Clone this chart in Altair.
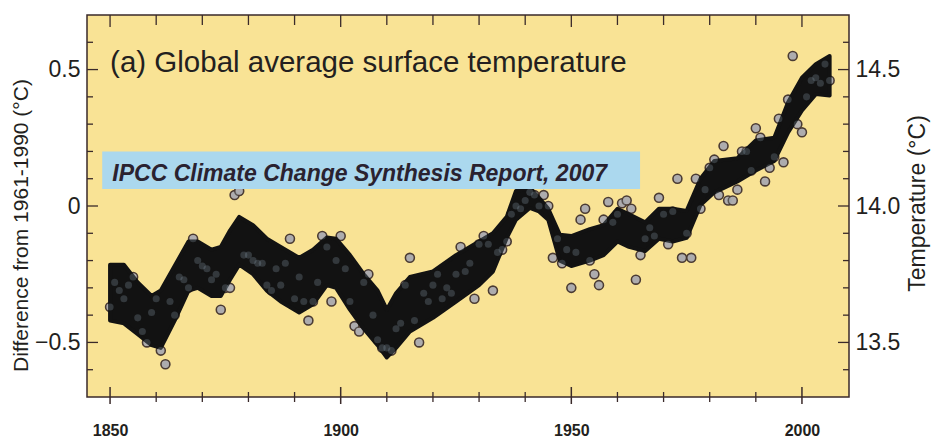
import altair as alt
import pandas as pd

# ---- data ----
years = list(range(1850, 2007))
anomaly = [
    -0.37, -0.28, -0.31, -0.34, -0.29, -0.26, -0.41, -0.46, -0.50, -0.39,
    -0.34, -0.53, -0.58, -0.35, -0.40, -0.26, -0.27, -0.30, -0.12, -0.20,
    -0.22, -0.23, -0.27, -0.25, -0.38, -0.30, -0.30, 0.04, 0.055, -0.18,
    -0.18, -0.20, -0.21, -0.21, -0.29, -0.31, -0.23, -0.29, -0.21, -0.12,
    -0.34, -0.26, -0.35, -0.42, -0.35, -0.28, -0.11, -0.15, -0.35, -0.20,
    -0.11, -0.23, -0.35, -0.44, -0.46, -0.28, -0.25, -0.40, -0.49, -0.52,
    -0.52, -0.53, -0.45, -0.43, -0.29, -0.19, -0.42, -0.50, -0.32, -0.35,
    -0.29, -0.25, -0.34, -0.30, -0.32, -0.25, -0.15, -0.24, -0.21, -0.34,
    -0.14, -0.11, -0.14, -0.31, -0.17, -0.16, -0.13, -0.03, 0.00, -0.01,
    0.02, 0.05, 0.04, 0.00, 0.04, 0.00, -0.19, -0.12, -0.21, -0.16,
    -0.30, -0.17, -0.05, -0.01, -0.20, -0.25, -0.29, -0.05, 0.015, -0.06,
    -0.03, 0.01, 0.02, -0.01, -0.27, -0.18, -0.12, -0.08, -0.11, 0.03,
    -0.03, -0.14, -0.02, 0.10, -0.19, -0.10, -0.19, 0.10, -0.01, 0.06,
    0.14, 0.17, 0.04, 0.22, 0.02, 0.02, 0.06, 0.20, 0.20, 0.13,
    0.285, 0.25, 0.09, 0.14, 0.18, 0.32, 0.16, 0.39, 0.55, 0.30,
    0.27, 0.40, 0.46, 0.47, 0.45, 0.52, 0.46,
]

band_year = [1850, 1853, 1856, 1859, 1861, 1864, 1867, 1869, 1872, 1874, 1876,
             1878, 1881, 1884, 1887, 1891, 1894, 1897, 1899, 1902, 1905, 1908,
             1910, 1912, 1915, 1920, 1925, 1930, 1933, 1936, 1938, 1941, 1943,
             1945, 1947.5, 1950, 1954, 1957, 1960, 1962.5, 1966, 1969, 1972,
             1975, 1978, 1981, 1986, 1990, 1994, 1997, 2000, 2003, 2006]
band_lo = [-0.42, -0.43, -0.47, -0.51, -0.52, -0.42, -0.31, -0.30, -0.33, -0.33, -0.27,
           -0.215, -0.25, -0.31, -0.35, -0.39, -0.36, -0.29, -0.30, -0.38, -0.45, -0.51,
           -0.555, -0.52, -0.46, -0.41, -0.35, -0.29, -0.24, -0.117, -0.05, -0.007, -0.02,
           -0.05, -0.20, -0.22, -0.20, -0.18, -0.13, -0.15, -0.165, -0.12, -0.13,
           -0.117, 0.004, 0.05, 0.09, 0.13, 0.165, 0.27, 0.35, 0.41, 0.405]
band_hi = [-0.215, -0.215, -0.28, -0.33, -0.31, -0.22, -0.13, -0.13, -0.16, -0.15, -0.09,
           -0.04, -0.07, -0.12, -0.15, -0.19, -0.16, -0.115, -0.12, -0.18, -0.25, -0.31,
           -0.38, -0.32, -0.26, -0.24, -0.18, -0.13, -0.10, -0.04, 0.055, 0.065, 0.03,
           -0.01, -0.105, -0.11, -0.085, -0.07, -0.01, -0.03, -0.06, -0.01, -0.01,
           -0.018, 0.10, 0.165, 0.175, 0.24, 0.25, 0.38, 0.47, 0.52, 0.55]

x_label_years = [1850, 1900, 1950, 2000]
x_minor_years = [1860, 1870, 1880, 1890, 1910, 1920, 1930, 1940, 1960, 1970, 1980, 1990]
y_major = [-0.5, 0.0, 0.5]
y_minor = [-0.6, -0.4, -0.3, -0.2, -0.1, 0.1, 0.2, 0.3, 0.4, 0.6]
t_major = [13.5, 14.0, 14.5]
t_minor = [13.4, 13.6, 13.7, 13.8, 13.9, 14.1, 14.2, 14.3, 14.4, 14.6]

title_text = "(a) Global average surface temperature"
banner_text = "IPCC Climate Change Synthesis Report, 2007"
banner_box = {"x": 1848.3, "x2": 1964.9, "y": 0.062, "y2": 0.2}
title_pos = {"x": 1850.0, "y": 0.49}
banner_pos = {"x": 1850.5, "y": 0.09}

# ---- styling ----
W, H = 762, 382
FONT = "Liberation Sans"
BG = "#f9e395"
INK = "#231f20"

xscale = alt.Scale(domain=[1845, 2010.2], nice=False, zero=False)
yscale = alt.Scale(domain=[-0.7, 0.7], nice=False, zero=False)
tscale = alt.Scale(domain=[13.3, 14.7], nice=False, zero=False)

df = pd.DataFrame({"year": years, "anom": anomaly})
band = pd.DataFrame({"year": band_year, "lo": band_lo, "hi": band_hi})

y_axis = alt.Axis(values=y_major, ticks=False, domain=False, grid=False,
                  labelExpr="datum.value == 0 ? '0' : format(datum.value, '.1f')",
                  labelFont=FONT, labelFontSize=23, labelColor=INK, labelPadding=7,
                  title="Difference from 1961-1990 (°C)", titleFont=FONT,
                  titleFontSize=21, titleFontWeight="normal", titleColor=INK,
                  titleAngle=270, titleX=-66, titleY=210, titleAlign="center",
                  titleBaseline="middle")
x_axis = alt.Axis(values=x_label_years, ticks=False, domain=False, grid=False,
                  format="d", labelFont=FONT, labelFontSize=16, labelFontWeight="bold",
                  labelColor=INK, labelPadding=25, title=None)

dots = alt.Chart(df).mark_point(
    filled=True, shape="circle", size=80, fill="#bbb3b0", stroke="#4a3b33",
    strokeWidth=1.6, opacity=1
).encode(
    x=alt.X("year:Q", scale=xscale, axis=x_axis),
    y=alt.Y("anom:Q", scale=yscale, axis=y_axis),
)

area = alt.Chart(band).mark_area(
    color="#121212", interpolate="linear", stroke="#121212", strokeWidth=4,
    strokeJoin="round"
).encode(
    x=alt.X("year:Q", scale=xscale),
    y=alt.Y("lo:Q", scale=yscale),
    y2="hi:Q",
)

dots_faint = alt.Chart(df).mark_circle(size=50, color="#8a9aa8", opacity=0.28).encode(
    x=alt.X("year:Q", scale=xscale),
    y=alt.Y("anom:Q", scale=yscale),
)

box = alt.Chart(pd.DataFrame([banner_box])).mark_rect(color="#abd8ee").encode(
    x=alt.X("x:Q", scale=xscale), x2="x2:Q",
    y=alt.Y("y:Q", scale=yscale), y2="y2:Q",
)

banner = alt.Chart(pd.DataFrame([{**banner_pos, "t": banner_text}])).mark_text(
    align="left", baseline="alphabetic", font=FONT, fontSize=23,
    fontStyle="italic", fontWeight="bold", color="#2a2230"
).encode(x=alt.X("x:Q", scale=xscale), y=alt.Y("y:Q", scale=yscale), text="t:N")

title = alt.Chart(pd.DataFrame([{**title_pos, "t": title_text}])).mark_text(
    align="left", baseline="alphabetic", font=FONT, fontSize=29.5, color=INK
).encode(x=alt.X("x:Q", scale=xscale), y=alt.Y("y:Q", scale=yscale), text="t:N")

TC = "#3a2a2a"
lt_major = alt.Chart(pd.DataFrame({"v": y_major})).mark_rule(color=TC, strokeWidth=1.3).encode(
    y=alt.Y("v:Q", scale=yscale), x=alt.value(0), x2=alt.value(11))
lt_minor = alt.Chart(pd.DataFrame({"v": y_minor})).mark_rule(color=TC, strokeWidth=1.3).encode(
    y=alt.Y("v:Q", scale=yscale), x=alt.value(0), x2=alt.value(6))

top_major = alt.Chart(pd.DataFrame({"yr": x_label_years})).mark_rule(color=TC, strokeWidth=1.3).encode(
    x=alt.X("yr:Q", scale=xscale), y=alt.value(0), y2=alt.value(12))
top_minor = alt.Chart(pd.DataFrame({"yr": x_minor_years})).mark_rule(color=TC, strokeWidth=1.3).encode(
    x=alt.X("yr:Q", scale=xscale), y=alt.value(0), y2=alt.value(10))
bot_major = alt.Chart(pd.DataFrame({"yr": x_label_years})).mark_rule(color=TC, strokeWidth=1.5).encode(
    x=alt.X("yr:Q", scale=xscale), y=alt.value(H - 10), y2=alt.value(H + 7))
bot_minor = alt.Chart(pd.DataFrame({"yr": x_minor_years})).mark_rule(color=TC, strokeWidth=1.3).encode(
    x=alt.X("yr:Q", scale=xscale), y=alt.value(H - 5), y2=alt.value(H + 5))

left_group = alt.layer(dots, area, dots_faint, box, banner, title,
                       lt_major, lt_minor, top_major, top_minor, bot_major, bot_minor)

t_axis = alt.Axis(orient="right", values=t_major, format=".1f", ticks=False, domain=False,
                  grid=False, labelFont=FONT, labelFontSize=23, labelColor=INK,
                  labelPadding=6, title="Temperature (°C)", titleFont=FONT,
                  titleFontSize=23, titleFontWeight="normal", titleColor=INK,
                  titleAngle=270, titleX=68, titleY=188, titleAlign="center",
                  titleBaseline="middle")
rt_major = alt.Chart(pd.DataFrame({"t": t_major})).mark_rule(color=TC, strokeWidth=1.3).encode(
    y=alt.Y("t:Q", scale=tscale, axis=t_axis), x=alt.value(W - 11), x2=alt.value(W))
rt_minor = alt.Chart(pd.DataFrame({"t": t_minor})).mark_rule(color=TC, strokeWidth=1.3).encode(
    y=alt.Y("t:Q", scale=tscale), x=alt.value(W - 6), x2=alt.value(W))
right_group = alt.layer(rt_major, rt_minor)

chart = alt.layer(left_group, right_group).resolve_scale(y="independent").properties(
    width=W, height=H,
    padding={"left": 79, "top": 7, "right": 82, "bottom": 40},
    autosize=alt.AutoSizeParams(type="none"),
    background="white",
).configure_view(fill=BG, stroke="#3a2a2a", strokeWidth=1.5)

chart.save("out.html", embed_options={"renderer": "svg", "actions": False})
